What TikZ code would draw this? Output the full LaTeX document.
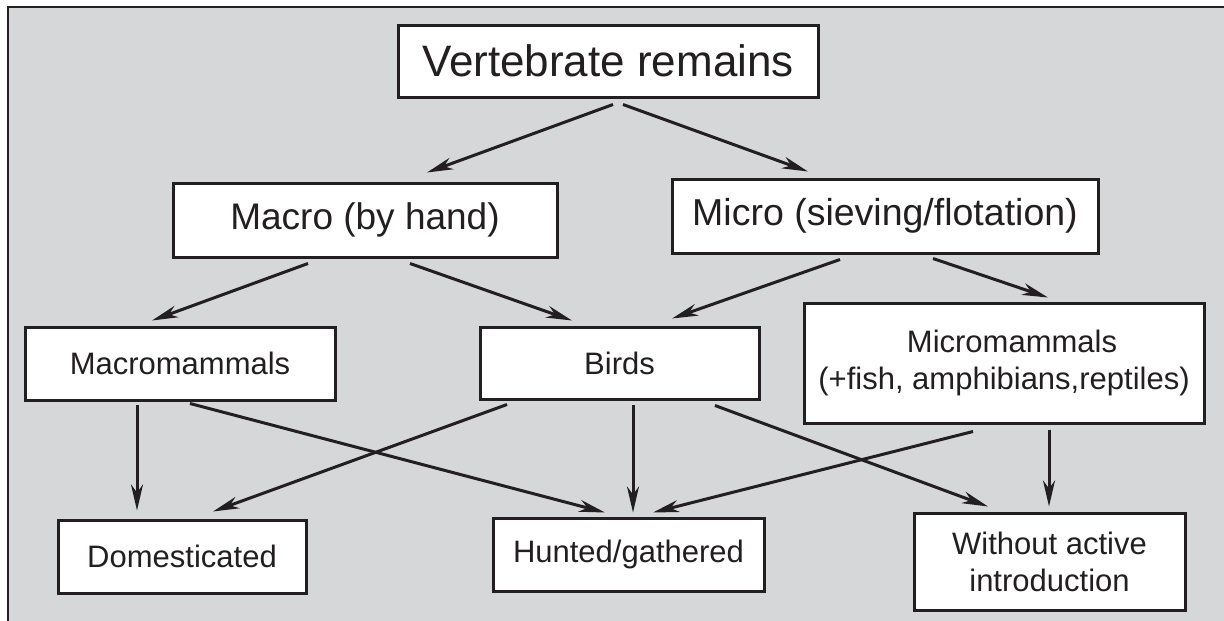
\documentclass[tikz,border=0pt]{standalone}
\usepackage{fontspec}
\setmainfont{Liberation Sans}
\usetikzlibrary{arrows.meta}
\definecolor{bggray}{HTML}{D6D7D9}
\definecolor{ink}{HTML}{231F20}
\tikzset{
  box/.style={draw=ink, line width=3pt, fill=white, inner sep=0pt, align=center, text=ink, font=\fontsize{31}{37}\selectfont},
  arr/.style={draw=ink, line width=3pt, -{Stealth[length=26pt,width=12pt,inset=8pt]}}
}
\begin{document}
\begin{tikzpicture}[x=1pt,y=-1pt]
\useasboundingbox (0,0) rectangle (1224,621);
\fill[bggray] (8,7) rectangle (1224,621);
\draw[ink, line width=1.8pt] (8,621) -- (8,7) -- (1224,7);
% nodes
\node[box, minimum width=420pt, minimum height=72pt, font=\fontsize{44}{50}\selectfont] (vr) at (608,61) {Vertebrate remains};
\node[box, minimum width=384pt, minimum height=74pt, font=\fontsize{37}{44}\selectfont] (macro) at (365,220) {Macro (by hand)};
\node[box, minimum width=426pt, minimum height=74pt, font=\fontsize{37.5}{44}\selectfont] (micro) at (885,216) {Micro (sieving/flotation)};
\node[box, minimum width=310pt, minimum height=73pt] (mm) at (180,363.5) {Macromammals};
\node[box, minimum width=279pt, minimum height=72pt] (birds) at (619.5,363) {Birds};
\node[box, minimum width=400pt, minimum height=120pt] (micm) at (1004,363) {\hspace*{16pt}Micromammals\\(+fish, amphibians,reptiles)};
\node[box, minimum width=248pt, minimum height=73pt] (dom) at (182,556.5) {Domesticated};
\node[box, minimum width=271pt, minimum height=73pt] (hunt) at (628.5,554.5) {Hunted/gathered};
\node[box, minimum width=271pt, minimum height=97pt] (wai) at (1049.5,561.5) {Without active\\introduction};
% connectors
\draw[arr] ([xshift=5pt,yshift=-6pt]vr.south) -- ([xshift=62pt,yshift=9pt]macro.north);
\draw[arr] ([xshift=15pt,yshift=-6pt]vr.south) -- ([xshift=-77pt,yshift=6pt]micro.north);
\draw[arr] ([xshift=-57pt,yshift=-5pt]macro.south) -- ([xshift=-28pt,yshift=5pt]mm.north);
\draw[arr] ([xshift=45pt,yshift=-5pt]macro.south) -- ([xshift=-47.5pt,yshift=5pt]birds.north);
\draw[arr] ([xshift=-45pt,yshift=-5pt]micro.south) -- ([xshift=52.5pt,yshift=7pt]birds.north);
\draw[arr] ([xshift=48pt,yshift=-4pt]micro.south) -- ([xshift=44pt,yshift=4pt]micm.north);
\draw[arr] ([xshift=-43pt,yshift=-3pt]mm.south) -- ([xshift=-45pt,yshift=8pt]dom.north);
\draw[arr] ([xshift=10pt,yshift=-2pt]mm.south) -- ([xshift=-23.5pt,yshift=4pt]hunt.north);
\draw[arr] ([xshift=-112.5pt,yshift=-4pt]birds.south) -- ([xshift=31pt,yshift=7pt]dom.north);
\draw[arr] ([xshift=13.5pt,yshift=-4pt]birds.south) -- ([xshift=4.5pt,yshift=4pt]hunt.north);
\draw[arr] ([xshift=95.5pt,yshift=-5pt]birds.south) -- ([xshift=-61.5pt,yshift=5pt]wai.north);
\draw[arr] ([xshift=-31pt,yshift=-7pt]micm.south) -- ([xshift=24.5pt,yshift=4pt]hunt.north);
\draw[arr] ([xshift=45pt,yshift=-5pt]micm.south) -- ([xshift=-0.5pt,yshift=5pt]wai.north);
\end{tikzpicture}
\end{document}
